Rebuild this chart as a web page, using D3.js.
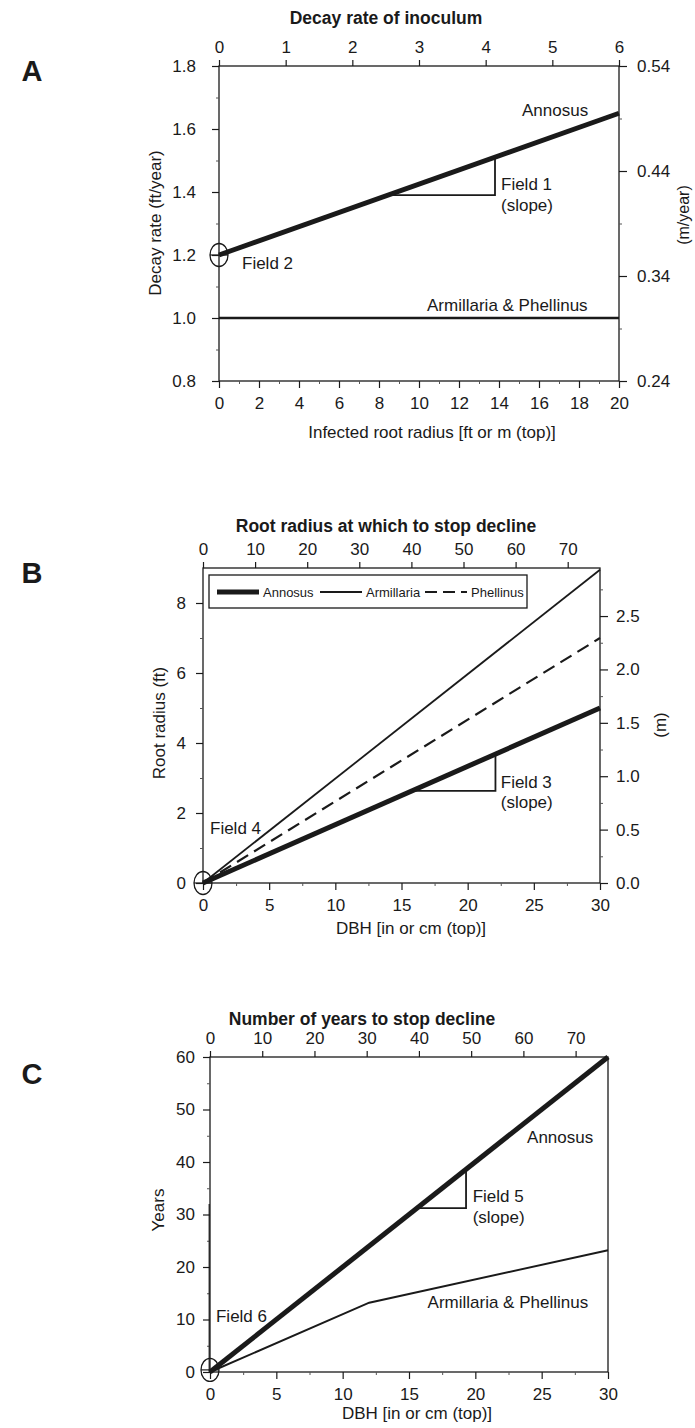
<!DOCTYPE html>
<html>
<head>
<meta charset="utf-8">
<script src="https://cdn.jsdelivr.net/npm/d3@7"></script>
<style>
body{margin:0;background:#fff}
svg text{font-family:"Liberation Sans",Arial,sans-serif;fill:#1a1a1a}
</style>
</head>
<body>
<script>
// ---- panel A : decay rate of inoculum
var aRadius=[0,20]
var aAnnosus=[1.2,1.65]
var aArmPhel=[1.0,1.0]
var aSlopeX=[8.7,13.8]
var aSlopeY=[1.39,1.51]
var aTopTicks=[0,1,2,3,4,5,6]
var aBottomTicks=[0,2,4,6,8,10,12,14,16,18,20]
var aLeftTicks=[0.8,1.0,1.2,1.4,1.6,1.8]
var aRightTicks=[0.24,0.34,0.44,0.54]

// ---- panel B : root radius at which to stop decline
var bDbh=[0,30]
var bAnnosus=[0,5.0]
var bArmillaria=[0,8.95]
var bPhellinus=[0,7.0]
var bSlopeX=[15.8,22.1]
var bSlopeY=[2.63,3.68]
var bTopTicks=[0,10,20,30,40,50,60,70]
var bBottomTicks=[0,5,10,15,20,25,30]
var bLeftTicks=[0,2,4,6,8]
var bRightTicks=[0.0,0.5,1.0,1.5,2.0,2.5]

// ---- panel C : number of years to stop decline
var cDbhAnn=[0,30]
var cAnnosus=[0,60]
var cDbhArm=[0,12,30]
var cArmPhel=[0,13.2,23.2]
var cSlopeX=[15.6,19.3]
var cSlopeY=[31.2,38.6]
var cTopTicks=[0,10,20,30,40,50,60,70]
var cBottomTicks=[0,5,10,15,20,25,30]
var cLeftTicks=[0,10,20,30,40,50,60]

var svg=d3.select("body").append("svg")
  .attr('width',695)
  .attr('height',1428)

var ink="#1a1a1a"
var fs=17

var drawAxis=function(g,axis,minor,minorVals,tx,ty){
  var a=g.append("g").attr('transform','translate('+tx+','+ty+')').call(axis)
  a.select(".domain").remove()
  a.selectAll("line").attr('stroke',ink).attr('stroke-width',1.2)
  a.selectAll("text").attr('font-size',fs).attr('fill',ink)
  if (minor){
    var m=g.append("g").attr('transform','translate('+tx+','+ty+')').call(minor.tickValues(minorVals).tickFormat("").tickSizeOuter(0))
    m.select(".domain").remove()
    m.selectAll("line").attr('stroke','#555').attr('stroke-width',1)
  }
  return a
}

var drawPanel=function(p){
  var x=d3.scaleLinear().domain(p.xDomain).range([p.left,p.right])
  var xTop=d3.scaleLinear().domain(p.topDomain).range([p.left,p.right])
  var y=d3.scaleLinear().domain(p.yDomain).range([p.bottom,p.top])
  var g=svg.append("g")

  // frame
  g.append("rect")
   .attr('x',p.left).attr('y',p.top)
   .attr('width',p.right-p.left).attr('height',p.bottom-p.top)
   .attr('fill','none').attr('stroke',ink).attr('stroke-width',1.3)

  drawAxis(g,d3.axisTop(xTop).tickValues(p.topTicks).tickFormat(d3.format("d")).tickSize(6).tickPadding(7).tickSizeOuter(0),null,null,0,p.top)
  drawAxis(g,d3.axisBottom(x).tickValues(p.bottomTicks).tickFormat(d3.format("d")).tickSize(7).tickPadding(9).tickSizeOuter(0),
    d3.axisBottom(x).tickSize(3),p.bottomMinor,0,p.bottom)
  drawAxis(g,d3.axisLeft(y).tickValues(p.leftTicks).tickSize(7).tickPadding(p.leftPad).tickFormat(p.leftFmt).tickSizeOuter(0),
    d3.axisLeft(y).tickSize(3),p.leftMinor,p.left,0)
  if (p.rightTicks){
    var yR=d3.scaleLinear().domain(p.rightDomain).range([p.bottom,p.top])
    drawAxis(g,d3.axisRight(yR).tickValues(p.rightTicks).tickSize(8).tickPadding(p.rightPad).tickFormat(p.rightFmt).tickSizeOuter(0),
      d3.axisRight(yR).tickSize(3),p.rightMinor,p.right,0)
    g.append("text")
     .attr('transform','translate('+p.rightLabelX+','+p.rightLabelY+') rotate(-90)')
     .attr('text-anchor','middle').attr('font-size',p.rightLabelSize||fs)
     .text(p.rightLabel)
  }

  // titles
  g.append("text").attr('x',p.titleX).attr('y',p.titleY)
   .attr('text-anchor','middle').attr('font-size',17.5).attr('font-weight','bold')
   .text(p.title)
  g.append("text").attr('x',p.xLabelX).attr('y',p.xLabelY)
   .attr('text-anchor','middle').attr('font-size',fs)
   .text(p.xLabel)
  g.append("text")
   .attr('transform','translate('+p.yLabelX+','+p.yLabelY+') rotate(-90)')
   .attr('text-anchor','middle').attr('font-size',fs)
   .text(p.yLabel)
  g.append("text").attr('x',32).attr('y',p.letterY)
   .attr('text-anchor','middle').attr('font-size',29).attr('font-weight','bold')
   .attr('font-family','"DejaVu Sans",sans-serif')
   .text(p.letter)

  // series
  var line=d3.line().x(function(d){return x(d[0])}).y(function(d){return y(d[1])})
  p.series.forEach(function(s){
    g.append("path")
     .datum(d3.zip(s.x,s.y))
     .attr('d',line)
     .attr('fill','none')
     .attr('stroke',ink)
     .attr('stroke-width',s.w)
     .attr('stroke-dasharray',s.dash||null)
  })

  // slope triangle
  var tri=[[p.slopeX[0],p.slopeY[0]],[p.slopeX[1],p.slopeY[0]],[p.slopeX[1],p.slopeY[1]]]
  g.append("path").datum(tri).attr('d',line)
   .attr('fill','none').attr('stroke',ink).attr('stroke-width',1.8)

  // intercept circle
  g.append("ellipse")
   .attr('cx',x(p.circle[0])).attr('cy',y(p.circle[1]))
   .attr('rx',9).attr('ry',11.5)
   .attr('fill','none').attr('stroke',ink).attr('stroke-width',1.3)
  g.append("line")
   .attr('x1',x(p.circle[0])-9).attr('x2',x(p.circle[0])+9)
   .attr('y1',y(p.circle[1])).attr('y2',y(p.circle[1]))
   .attr('stroke',ink).attr('stroke-width',1.2)

  // annotations
  p.notes.forEach(function(n){
    g.append("text").attr('x',x(n[0])).attr('y',y(n[1]))
     .attr('font-size',fs).text(n[2])
  })
  return {x:x,y:y,g:g}
}

// A
drawPanel({
  letter:"A",letterY:81,
  left:219,right:619,top:66,bottom:381,
  xDomain:[0,20],topDomain:[0,6],yDomain:[0.8,1.8],
  topTicks:aTopTicks,bottomTicks:aBottomTicks,bottomMinor:[1,3,5,7,9,11,13,15,17,19],
  leftTicks:aLeftTicks,leftMinor:[0.9,1.1,1.3,1.5,1.7],leftPad:16,leftFmt:d3.format(".1f"),
  rightTicks:aRightTicks,rightDomain:[0.24,0.54],rightMinor:[0.29,0.39,0.49],rightPad:10,rightFmt:d3.format(".2f"),
  rightLabel:"(m/year)",rightLabelX:689,rightLabelY:215,rightLabelSize:16,
  title:"Decay rate of inoculum",titleX:386,titleY:24,
  xLabel:"Infected root radius [ft or m (top)]",xLabelX:432,xLabelY:438,
  yLabel:"Decay rate (ft/year)",yLabelX:161,yLabelY:223,
  series:[{x:aRadius,y:aAnnosus,w:4.8},{x:aRadius,y:aArmPhel,w:2.6}],
  slopeX:aSlopeX,slopeY:aSlopeY,circle:[0,1.2],
  notes:[[15.15,1.641,"Annosus"],[14.1,1.406,"Field 1"],[14.1,1.34,"(slope)"],
         [1.15,1.156,"Field 2"],[10.4,1.022,"Armillaria & Phellinus"]]
})

// B
var pb=drawPanel({
  letter:"B",letterY:583,
  left:203,right:600,top:568,bottom:883,
  xDomain:[0,30],topDomain:[0,76.2],yDomain:[0,9],
  topTicks:bTopTicks,bottomTicks:bBottomTicks,bottomMinor:[2.5,7.5,12.5,17.5,22.5,27.5],
  leftTicks:bLeftTicks,leftMinor:[1,3,5,7],leftPad:10,leftFmt:d3.format("d"),
  rightTicks:bRightTicks,rightDomain:[0,2.95],rightMinor:[0.25,0.75,1.25,1.75,2.25,2.75],rightPad:8,rightFmt:d3.format(".1f"),
  rightLabel:"(m)",rightLabelX:666,rightLabelY:725,
  title:"Root radius at which to stop decline",titleX:386,titleY:532,
  xLabel:"DBH [in or cm (top)]",xLabelX:411,xLabelY:934,
  yLabel:"Root radius (ft)",yLabelX:165,yLabelY:723,
  series:[{x:bDbh,y:bArmillaria,w:1.8},{x:bDbh,y:bPhellinus,w:2.2,dash:"13,7"},{x:bDbh,y:bAnnosus,w:5}],
  slopeX:bSlopeX,slopeY:bSlopeY,circle:[0,0],
  notes:[[22.5,2.71,"Field 3"],[22.5,2.14,"(slope)"],[0.53,1.4,"Field 4"]]
})

// legend of B
var legend=[{name:"Annosus",w:5,dash:null},{name:"Armillaria",w:1.8,dash:null},{name:"Phellinus",w:2,dash:"12,6"}]
var lg=pb.g.append("g")
lg.append("rect").attr('x',209).attr('y',575).attr('width',318).attr('height',33)
  .attr('fill','#fff').attr('stroke',ink).attr('stroke-width',1.3)
var lx=[217,320,425]
legend.forEach(function(d,i){
  lg.append("line").attr('x1',lx[i]).attr('x2',lx[i]+42).attr('y1',592).attr('y2',592)
    .attr('stroke',ink).attr('stroke-width',d.w).attr('stroke-dasharray',d.dash)
  lg.append("text").attr('x',lx[i]+46).attr('y',597).attr('font-size',13).text(d.name)
})

// C
var pc=drawPanel({
  letter:"C",letterY:1084,
  left:210,right:608,top:1057,bottom:1372,
  xDomain:[0,30],topDomain:[0,76.2],yDomain:[0,60],
  topTicks:cTopTicks,bottomTicks:cBottomTicks,bottomMinor:[2.5,7.5,12.5,17.5,22.5,27.5],
  leftTicks:cLeftTicks,leftMinor:[5,15,25,35,45,55],leftPad:8,leftFmt:d3.format("d"),
  rightTicks:null,
  title:"Number of years to stop decline",titleX:362,titleY:1025,
  xLabel:"DBH [in or cm (top)]",xLabelX:417,xLabelY:1419,
  yLabel:"Years",yLabelX:164,yLabelY:1210,
  series:[{x:cDbhArm,y:cArmPhel,w:2},{x:cDbhAnn,y:cAnnosus,w:5}],
  slopeX:cSlopeX,slopeY:cSlopeY,circle:[0,0.4],
  notes:[[23.9,43.7,"Annosus"],[19.8,32.3,"Field 5"],[19.8,28.3,"(slope)"],
         [16.4,12.15,"Armillaria & Phellinus"],[0.45,9.5,"Field 6"]]
})
// thicker stretch of the left axis in C
pc.g.append("line")
  .attr('x1',pc.x(0)-0.8).attr('x2',pc.x(0)-0.8)
  .attr('y1',pc.y(32)).attr('y2',pc.y(0))
  .attr('stroke',ink).attr('stroke-width',1.2)
</script>
</body>
</html>
